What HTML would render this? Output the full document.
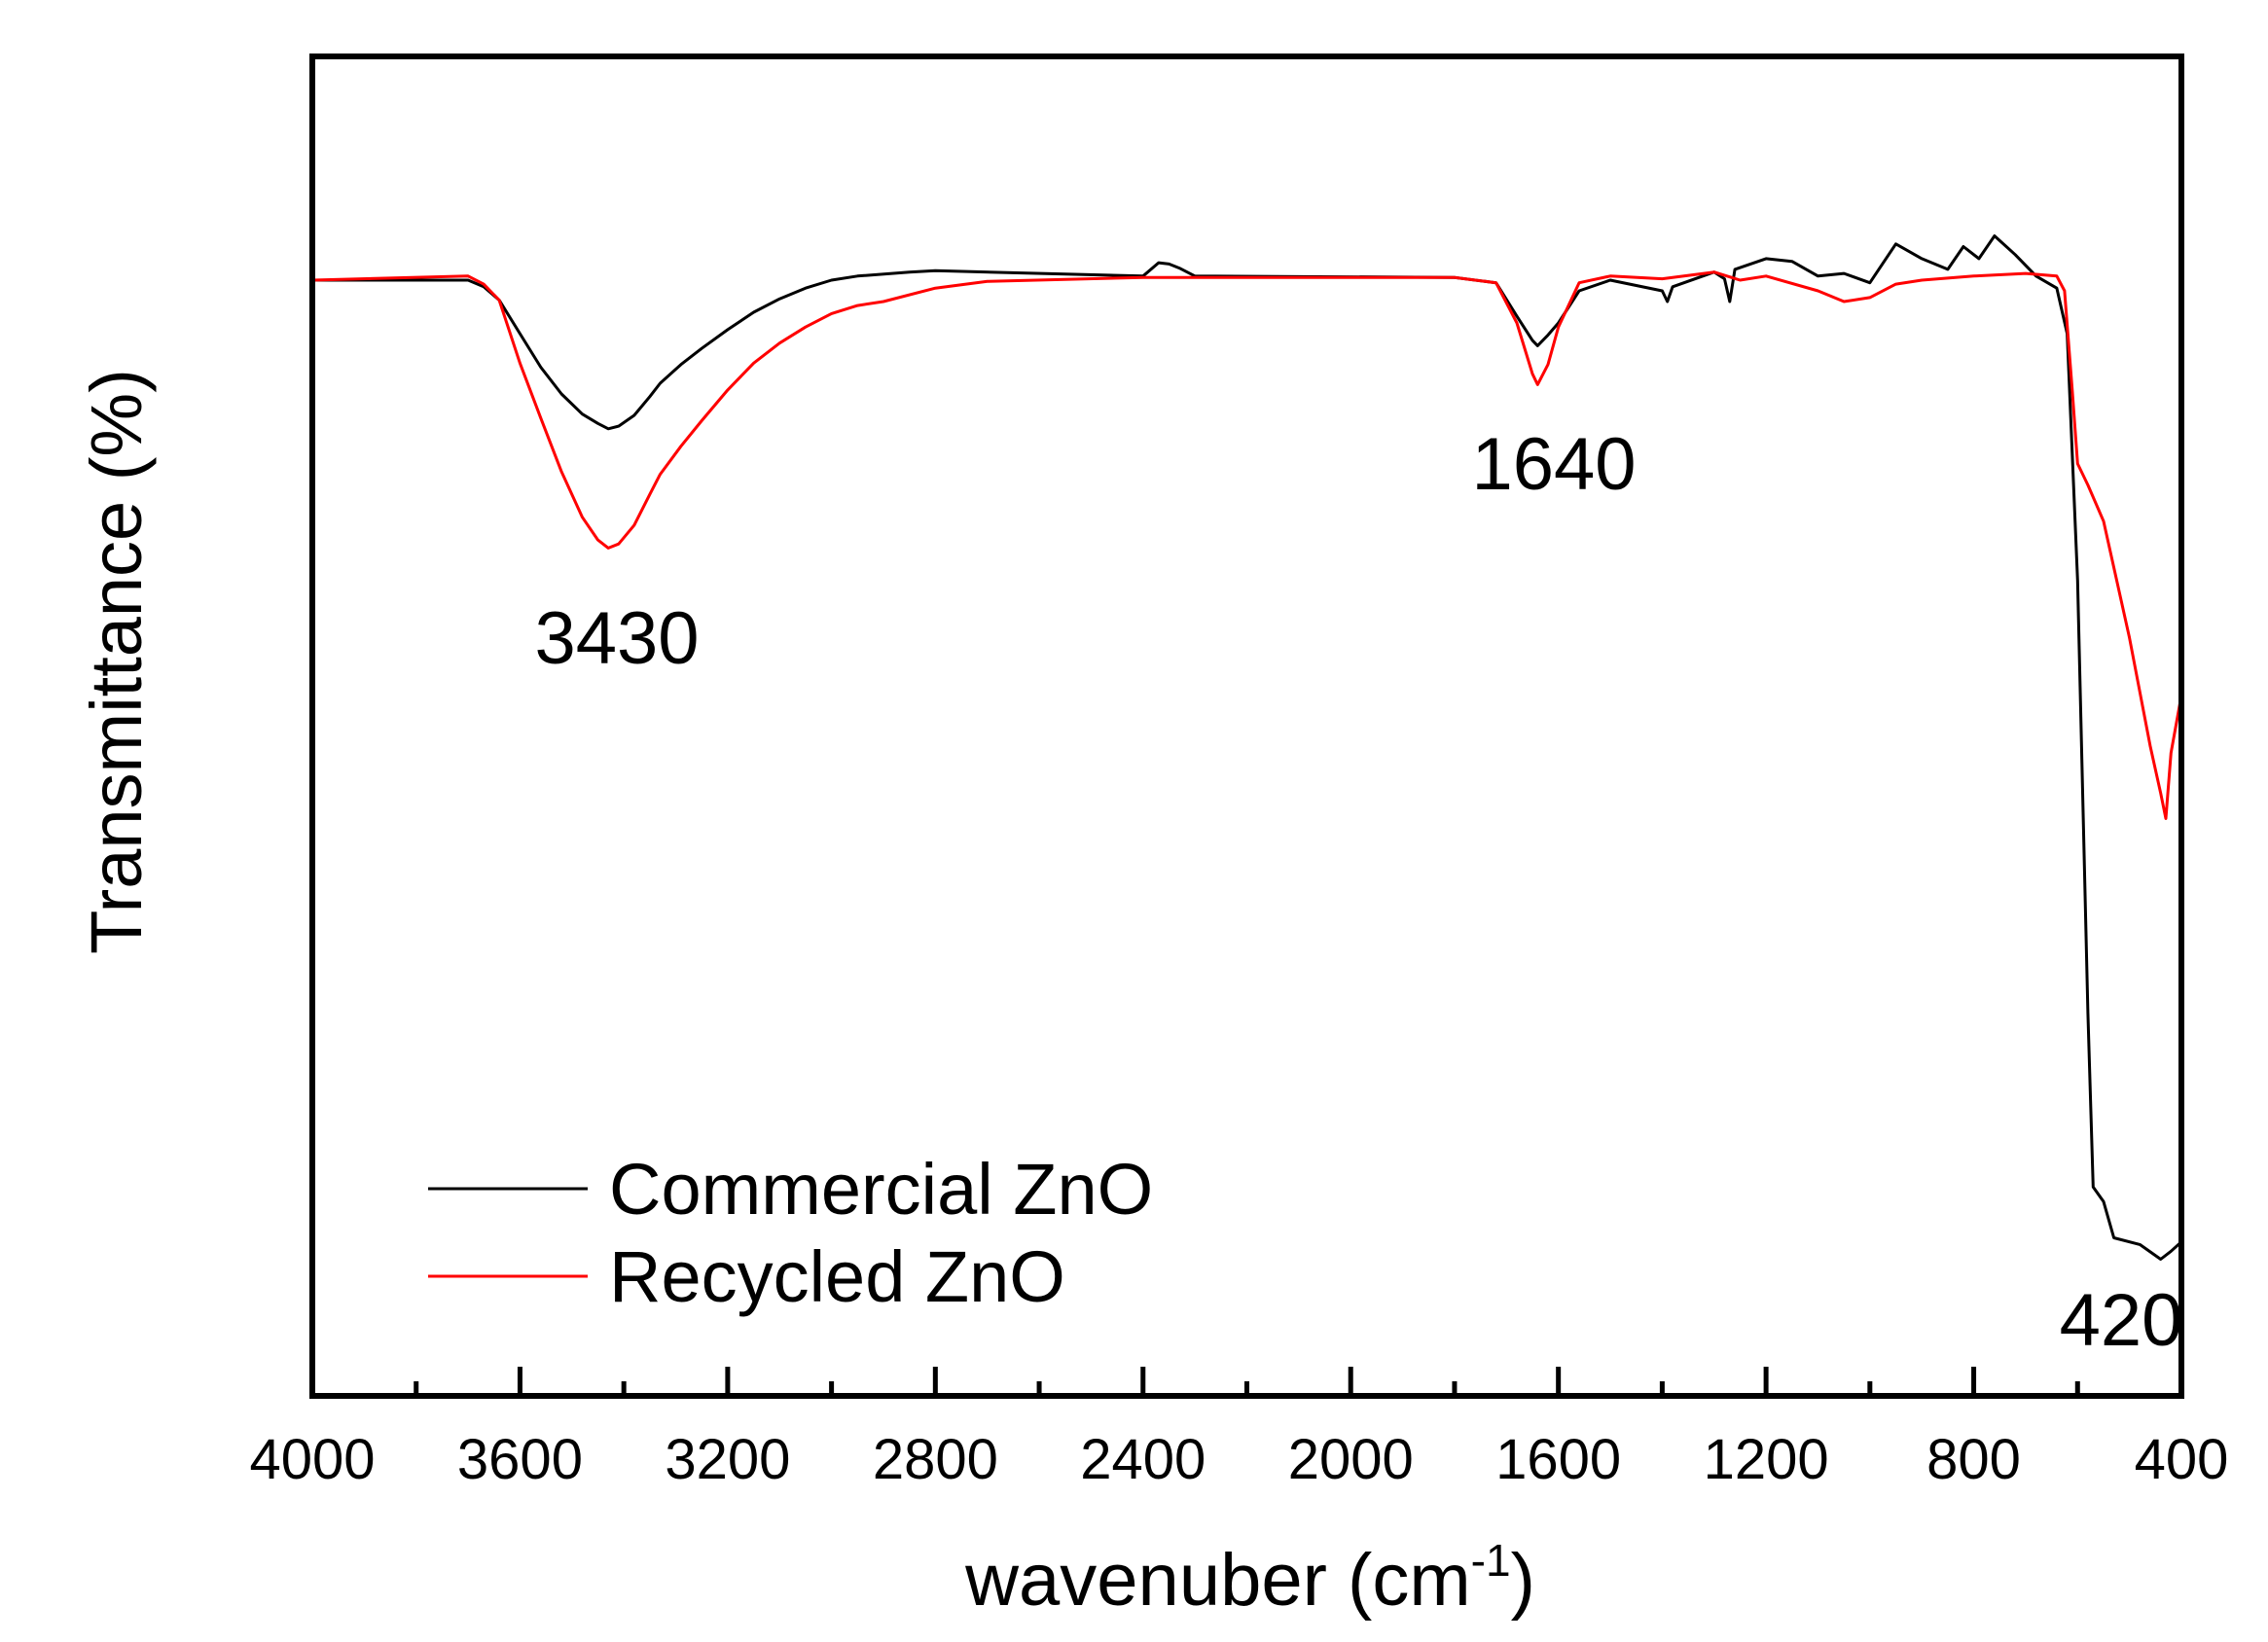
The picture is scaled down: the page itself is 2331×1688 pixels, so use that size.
<!DOCTYPE html>
<html><head><meta charset="utf-8"><style>
html,body{margin:0;padding:0;background:#fff;}
svg{display:block;font-family:"Liberation Sans",Arial,sans-serif;}
</style></head><body>
<svg id="chart" width="2331" height="1688" viewBox="0 0 2331 1688" xmlns="http://www.w3.org/2000/svg">
<g id="plot"></g>
</svg>
<script>
const xTicks = [4000,3600,3200,2800,2400,2000,1600,1200,800,400];
const commercialX = [4000,3700,3670,3640,3600,3560,3520,3480,3450,3430,3410,3380,3350,3330,3290,3250,3200,3150,3100,3050,3000,2950,2850,2800,2400,2370,2350,2330,2300,1800,1720,1680,1650,1640,1620,1600,1560,1500,1400,1390,1380,1300,1280,1270,1260,1200,1150,1100,1050,1000,950,900,850,820,790,760,720,680,640,620,600,580,570,550,530,480,440,420,400];
const commercialY = [83.3,83.3,82.8,81.8,79.3,76.8,74.8,73.3,72.6,72.2,72.4,73.2,74.6,75.6,77.0,78.2,79.6,80.9,81.9,82.7,83.3,83.6,83.9,84.0,83.6,84.6,84.5,84.2,83.6,83.5,83.1,80.6,78.8,78.4,79.2,80.1,82.5,83.3,82.5,81.7,82.8,83.9,83.4,81.7,84.1,84.9,84.7,83.6,83.8,83.1,86.0,84.9,84.1,85.8,84.9,86.6,85.2,83.6,82.7,79.3,60.9,28.6,15.6,14.5,11.8,11.3,10.2,10.8,11.5];
const recycledX = [4000,3700,3670,3640,3600,3560,3520,3480,3450,3430,3410,3380,3350,3330,3290,3250,3200,3150,3100,3050,3000,2950,2900,2800,2700,2400,1800,1720,1680,1650,1640,1620,1600,1560,1500,1400,1300,1250,1200,1100,1050,1000,950,900,800,700,640,625,610,600,580,550,500,460,440,430,420,400];
const recycledY = [83.3,83.6,83.0,81.8,77.1,73.0,69.0,65.6,63.9,63.3,63.6,65.0,67.3,68.8,70.9,72.8,75.1,77.1,78.6,79.8,80.8,81.4,81.7,82.7,83.2,83.5,83.5,83.1,80.1,76.3,75.5,77.0,79.8,83.1,83.6,83.4,83.9,83.3,83.6,82.5,81.7,82.0,83.0,83.3,83.6,83.8,83.6,82.5,75.0,69.6,68.0,65.3,56.6,48.5,45.0,43.1,48.0,52.3];

const L=321,R=2242,T=58,B=1435;
const xs = w => L + (4000-w)/(4000-400)*(R-L);
const ys = v => B - v/100*(B-T);
const NS="http://www.w3.org/2000/svg";
const g=document.getElementById('plot');
function mk(tag,attrs,parent){const e=document.createElementNS(NS,tag);for(const k in attrs)e.setAttribute(k,attrs[k]);(parent||g).appendChild(e);return e;}

function series(X,Y,color,name){
  const p=mk('polyline',{points:X.map((x,i)=>xs(x).toFixed(1)+','+ys(Y[i]).toFixed(1)).join(' '),fill:'none',stroke:color,'stroke-width':3,'stroke-linejoin':'round'});
  
  
}
series(commercialX,commercialY,'#000','commercial-zno-line');
series(recycledX,recycledY,'#ff0000','recycled-zno-line');

const fr=mk('rect',{x:L,y:T,width:R-L,height:B-T,fill:'none',stroke:'#000','stroke-width':6});



for(let w=4000; w>=400; w-=200){
  const major = xTicks.includes(w);
  const t=mk('line',{x1:xs(w),x2:xs(w),y1:B,y2:B-(major?30:15),stroke:'#000','stroke-width':5});
  
  
}
xTicks.forEach(w=>{
  const t=mk('text',{x:xs(w),y:1520,'font-size':58,'text-anchor':'middle',fill:'#000'});
  t.textContent=w;
  
  
});

function label(txt,x,y,size,name,anchor){
  const t=mk('text',{x:x,y:y,'font-size':size,'text-anchor':anchor||'middle',fill:'#000'});
  t.textContent=txt;
  
  
  return t;
}
label('3430',634,682,76,'peak-label-3430');
label('1640',1597,503,76,'peak-label-1640');
label('420',2180,1383,76,'peak-label-420');

const xt=mk('text',{x:1285,y:1650,'font-size':76,'text-anchor':'middle',fill:'#000'});
xt.innerHTML='wavenuber (cm<tspan dy="-30" font-size="46">-1</tspan><tspan dy="30">)</tspan>';



const yt=mk('text',{x:0,y:0,'font-size':74,'text-anchor':'middle',fill:'#000',transform:'translate(145,680) rotate(-90)'});
yt.textContent='Transmittance (%)';



const lg=mk('g',{});


[['Commercial ZnO','#000',1222],['Recycled ZnO','#ff0000',1312]].forEach(([n,c,y])=>{
  const ln=mk('line',{x1:440,x2:604,y1:y,y2:y,stroke:c,'stroke-width':3},lg);
  
  
  const t=mk('text',{x:626,y:y+26,'font-size':74,fill:'#000'},lg);
  t.textContent=n;
  
  
});
</script>
</body></html>
